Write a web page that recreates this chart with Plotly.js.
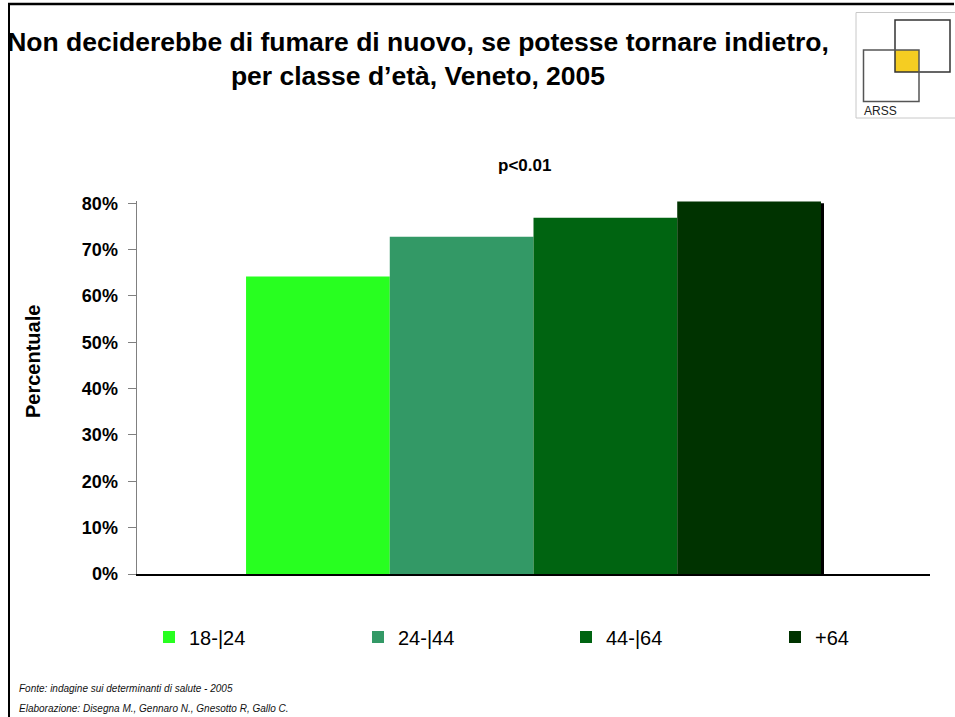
<!DOCTYPE html>
<html>
<head>
<meta charset="utf-8">
<script src="https://cdn.plot.ly/plotly-3.0.1.min.js"></script>
<style>html,body{margin:0;padding:0;background:#fff;}#chart{width:955px;height:717px;}</style>
</head>
<body>
<div id="chart"></div>
<script>
// ---- data ----
const groups = ["18-|24", "24-|44", "44-|64", "+64"];
const values = [0.642, 0.728, 0.769, 0.804];
const colors = ["#28ff20", "#339966", "#006411", "#003300"];
const category = ["Veneto 2005"];
const yTicks = [0, 0.1, 0.2, 0.3, 0.4, 0.5, 0.6, 0.7, 0.8];
const titleText = "Non deciderebbe di fumare di nuovo, se potesse tornare indietro,<br>per classe d’età, Veneto, 2005";
const subtitleText = "p<0.01";
const yTitle = "Percentuale";
const footer1 = "Fonte: indagine sui determinanti di salute - 2005";
const footer2 = "Elaborazione: Disegna M., Gennaro N., Gnesotto R, Gallo C.";

const W = 955, H = 717;
const M = {l: 137, r: 25, t: 201, b: 143};
const PW = W - M.l - M.r, PH = H - M.t - M.b;
const px = x => (x - M.l) / PW;
const py = y => (H - M.b - y) / PH;

const FONT = "Liberation Sans, Arial, sans-serif";

// one legend per series so each entry sits at its own column
const legendIds = ["legend", "legend2", "legend3", "legend4"];
const legendLeft = [149, 358, 566, 775];

const traces = groups.map((g, i) => ({
  type: "bar",
  name: g,
  x: category,
  y: [values[i]],
  marker: {color: colors[i], line: {width: 0}},
  legend: legendIds[i],
  hoverinfo: "name+y"
}));

const shapes = [
  // page frame
  {type: "line", xref: "paper", yref: "paper", x0: px(8), x1: px(954), y0: py(4), y1: py(4), line: {color: "#000", width: 2.5}},
  {type: "line", xref: "paper", yref: "paper", x0: px(9), x1: px(9), y0: py(3), y1: py(717), line: {color: "#000", width: 2}},
  // logo
  {type: "rect", xref: "paper", yref: "paper", x0: px(856), x1: px(958), y0: py(12.5), y1: py(118), line: {color: "#c8c8c8", width: 1}},
  {type: "rect", xref: "paper", yref: "paper", x0: px(895), x1: px(919), y0: py(50), y1: py(72), fillcolor: "#f5cd22", line: {width: 0}},
  {type: "rect", xref: "paper", yref: "paper", x0: px(895), x1: px(950), y0: py(20), y1: py(72), line: {color: "#333", width: 1.5}},
  {type: "rect", xref: "paper", yref: "paper", x0: px(863.5), x1: px(919), y0: py(50), y1: py(101.5), line: {color: "#555", width: 1.5}},
  // drop shadow on the right of the last bar
  {type: "rect", xref: "paper", yref: "y", x0: px(820), x1: px(824), y0: 0, y1: values[values.length - 1] - 0.004, fillcolor: "#000", line: {width: 0}, layer: "below"}
];

const annotations = [
  {text: subtitleText, xref: "paper", yref: "paper", x: px(524), y: py(166), showarrow: false, xanchor: "center", yanchor: "middle", font: {family: FONT, size: 17, color: "#000", weight: "bold"}},
  {text: yTitle, xref: "paper", yref: "paper", x: px(33), y: py(362), textangle: -90, showarrow: false, xanchor: "center", yanchor: "middle", font: {family: FONT, size: 20, color: "#000", weight: "bold"}},
  {text: "ARSS", xref: "paper", yref: "paper", x: px(862), y: py(111), showarrow: false, xanchor: "left", yanchor: "middle", font: {family: FONT, size: 12, color: "#222"}},
  {text: "<i>" + footer1 + "</i>", xref: "paper", yref: "paper", x: px(17), y: py(688), showarrow: false, xanchor: "left", yanchor: "middle", font: {family: FONT, size: 10, color: "#111"}},
  {text: "<i>" + footer2 + "</i>", xref: "paper", yref: "paper", x: px(17), y: py(708), showarrow: false, xanchor: "left", yanchor: "middle", font: {family: FONT, size: 10, color: "#111"}}
];

const layout = {
  width: W, height: H,
  margin: M,
  paper_bgcolor: "#fff", plot_bgcolor: "#fff",
  showlegend: true,
  barmode: "group",
  bargap: 0.275,
  bargroupgap: 0,
  title: {
    text: titleText,
    xref: "container", yref: "container",
    x: 418 / W, xanchor: "center",
    y: 1 - 51 / H, yanchor: "middle",
    font: {family: FONT, size: 26.5, color: "#000", weight: "bold"}
  },
  xaxis: {
    type: "category",
    showticklabels: false, ticks: "",
    showline: true, linecolor: "#000", linewidth: 1.5,
    showgrid: false, zeroline: false, fixedrange: true
  },
  yaxis: {
    range: [0, 0.805],
    tickvals: yTicks,
    tickformat: ".0%",
    ticks: "outside", ticklen: 8, tickcolor: "#808080", tickwidth: 1,
    ticklabelstandoff: 6,
    showline: true, linecolor: "#808080", linewidth: 1.5,
    showgrid: false, zeroline: false,
    tickfont: {family: FONT, size: 18, color: "#000", weight: "bold"},
    fixedrange: true
  },
  shapes: shapes,
  annotations: annotations
};

legendIds.forEach((id, i) => {
  layout[id] = {
    orientation: "h",
    x: px(legendLeft[i]), xanchor: "left",
    y: py(637), yanchor: "middle",
    font: {family: FONT, size: 20, color: "#000"},
    bgcolor: "rgba(0,0,0,0)", borderwidth: 0
  };
});

Plotly.newPlot("chart", traces, layout, {displayModeBar: false, staticPlot: true});
</script>
</body>
</html>
